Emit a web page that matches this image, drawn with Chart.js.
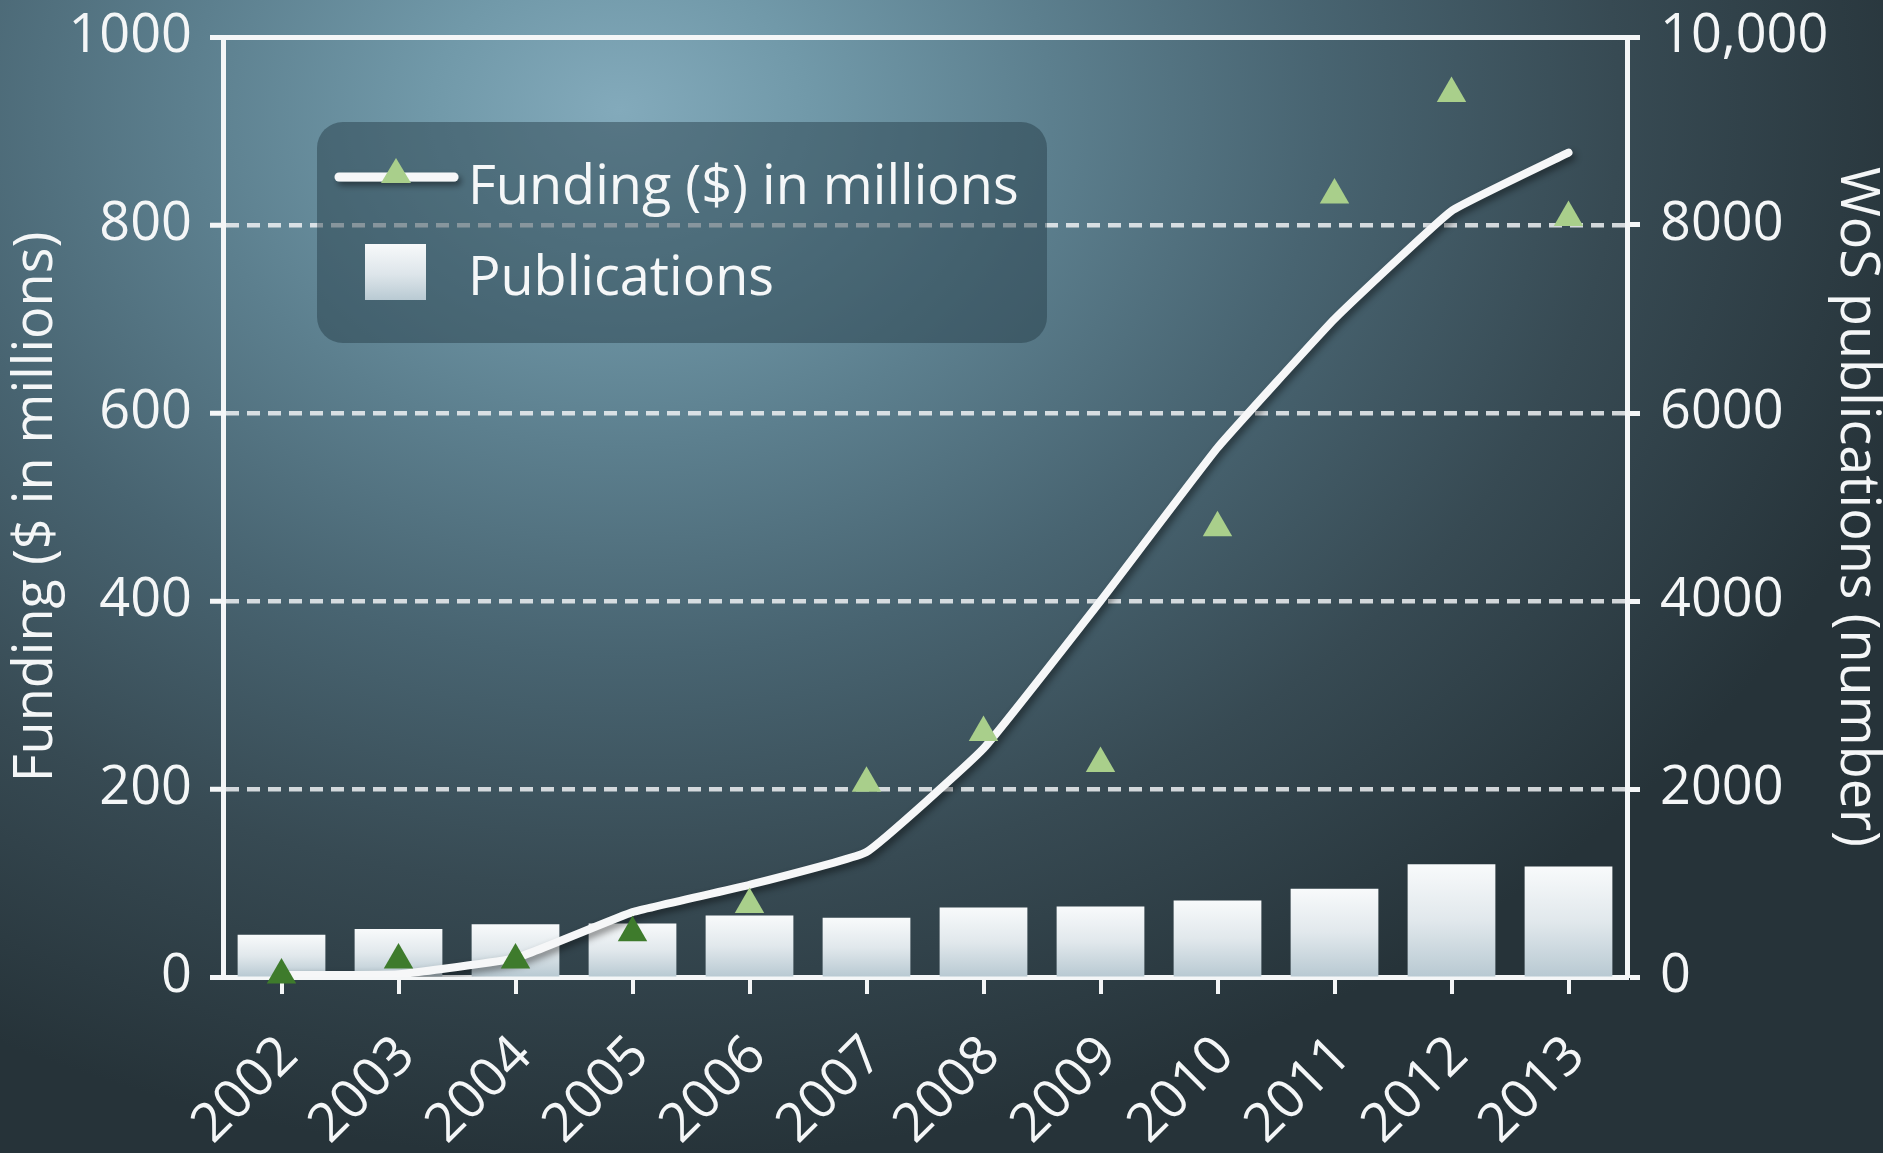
<!DOCTYPE html>
<html>
<head>
<meta charset="utf-8">
<script src="https://cdn.jsdelivr.net/npm/chart.js@4"></script>
<style>
  html, body { margin: 0; padding: 0; overflow: hidden; }
  #wrap {
    position: relative; width: 1883px; height: 1153px;
    background: radial-gradient(ellipse 1350px 1050px at 620px 110px,
      #83aabb 0%, #7199a9 14%, #5c7f8e 32%, #486471 52%, #374a53 74%, #263339 100%);
    font-family: 'Open Sans', sans-serif; color: #f5f7f8;
  }
  #chart { position: absolute; left: 0; top: 0; }
  #legend {
    position: absolute; left: 317px; top: 122px; width: 730px; height: 221px;
    border-radius: 26px; background: rgba(34, 56, 66, 0.45);
  }
  .lg-text { position: absolute; left: 151px; font-size: 54px; line-height: 60px; white-space: nowrap; }
  #swatch {
    position: absolute; left: 48px; top: 122px; width: 61px; height: 56px;
    background: linear-gradient(#f7f9fa, #dde5ea 55%, #b9cad3);
  }
  #lineKey { position: absolute; left: 14px; top: 30px; }
</style>
</head>
<body>
<div id="wrap">
  <canvas id="chart" width="1883" height="1153"></canvas>
  <div id="legend">
    <svg id="lineKey" width="140" height="50">
      <defs>
        <filter id="sh" filterUnits="userSpaceOnUse" x="0" y="0" width="140" height="50">
          <feDropShadow dx="3" dy="4" stdDeviation="3" flood-color="#000" flood-opacity="0.45"/>
        </filter>
      </defs>
      <line x1="8" y1="25" x2="123" y2="25" stroke="#f6f7f8" stroke-width="9" stroke-linecap="round" filter="url(#sh)"/>
      <polygon points="65,6 80,31 50,31" fill="#a9cf8b"/>
    </svg>
    <div class="lg-text" style="top:31px">Funding ($) in millions</div>
    <div id="swatch"></div>
    <div class="lg-text" style="top:122px">Publications</div>
  </div>
</div>
<script>
// years on the x axis
const years = ['2002', '2003', '2004', '2005', '2006', '2007', '2008', '2009', '2010', '2011', '2012', '2013'];
// funding trend line, $ millions
const fundingLine = [2, 3, 20, 69, 98, 133, 243, 400, 563, 700, 815, 877];
// yearly funding markers, $ millions
const fundingPoints = [2, 18, 18, 47, 77, 206, 260, 227, 478, 832, 940, 808];
// WoS publications per year
const publications = [450, 510, 560, 570, 655, 630, 740, 750, 815, 940, 1200, 1175];
// axis tick labels
const fundingTicks = ['0', '200', '400', '600', '800', '1000'];
const pubTicks = ['0', '2000', '4000', '6000', '8000', '10,000'];

const WHITE = '#f4f6f7';
const FONT = { family: "'Open Sans', sans-serif", size: 54 };
const isEdge = c => c.tick && (c.tick.value === 0 || c.tick.value === 1000);

// keep the plot box fixed: no extra room for overhanging labels
const noOverhang = s => { s.paddingTop = 0; s.paddingBottom = 0; s.paddingLeft = 0; s.paddingRight = 0; };

// soft drop shadow under the funding line
const lineShadow = {
  id: 'lineShadow',
  beforeDatasetDraw(chart, args) {
    if (args.index !== 1) return;
    const ctx = chart.ctx;
    ctx.save();
    ctx.shadowColor = 'rgba(0,0,0,0.45)';
    ctx.shadowBlur = 7;
    ctx.shadowOffsetX = 3;
    ctx.shadowOffsetY = 4;
  },
  afterDatasetDraw(chart, args) {
    if (args.index === 1) chart.ctx.restore();
  }
};

new Chart(document.getElementById('chart'), {
  type: 'bar',
  data: {
    labels: years,
    datasets: [
      {
        type: 'line',
        label: 'Funding points',
        data: fundingPoints,
        yAxisID: 'y',
        showLine: false,
        pointStyle: 'triangle',
        pointRadius: 17,
        pointBorderWidth: 0,
        clip: false,
        pointBackgroundColor: c => {
          const ch = c.chart;
          if (!ch.scales.y) return '#a9cf8b';
          const inBar = ch.scales.y.getPixelForValue(c.raw) > ch.scales.y1.getPixelForValue(publications[c.dataIndex]);
          return inBar ? '#3e7b2c' : '#a9cf8b';
        },
        order: 0
      },
      {
        type: 'line',
        label: 'Funding ($) in millions',
        data: fundingLine,
        yAxisID: 'y',
        borderColor: '#f6f7f8',
        borderWidth: 8,
        borderCapStyle: 'round',
        borderJoinStyle: 'round',
        pointRadius: 0,
        tension: 0.1,
        order: 1
      },
      {
        label: 'Publications',
        data: publications,
        yAxisID: 'y1',
        categoryPercentage: 1,
        barPercentage: 0.75,
        backgroundColor: c => {
          const ch = c.chart;
          const area = ch.chartArea;
          if (!area || !ch.scales.y1) return '#e6ecef';
          const top = ch.scales.y1.getPixelForValue(c.raw);
          const g = ch.ctx.createLinearGradient(0, top, 0, area.bottom);
          g.addColorStop(0, '#f8fafb');
          g.addColorStop(0.5, '#e1e8ec');
          g.addColorStop(1, '#b8c9d2');
          return g;
        },
        order: 2
      }
    ]
  },
  options: {
    responsive: false,
    animation: false,
    layout: { padding: { top: 37, left: 0, right: 0, bottom: 0 } },
    plugins: { legend: { display: false }, tooltip: { enabled: false } },
    scales: {
      x: {
        offset: true,
        grid: { offset: false, drawOnChartArea: false, color: WHITE, lineWidth: 4, tickLength: 17 },
        border: { display: true, color: WHITE, width: 5 },
        ticks: { color: WHITE, font: FONT, minRotation: 45, maxRotation: 45, autoSkip: false, padding: 30, labelOffset: 8 },
        afterFit: s => { s.height = 176; noOverhang(s); }
      },
      y: {
        position: 'left',
        min: 0, max: 1000,
        ticks: { stepSize: 200, color: WHITE, font: FONT, padding: 18, callback: (v, i) => fundingTicks[i] },
        grid: {
          color: c => isEdge(c) ? WHITE : 'rgba(238,241,243,0.85)',
          lineWidth: c => isEdge(c) ? 5 : 4.5,
          tickColor: WHITE, tickWidth: 5, tickLength: 13
        },
        border: { display: true, color: WHITE, width: 5, dash: c => isEdge(c) || !c.tick ? [] : [13, 8] },
        title: { display: true, text: 'Funding ($ in millions)', color: WHITE, font: FONT, padding: { top: 4, bottom: 0 } },
        afterFit: s => { s.width = 223; noOverhang(s); }
      },
      y1: {
        position: 'right',
        min: 0, max: 10000,
        ticks: { stepSize: 2000, color: WHITE, font: FONT, padding: 20, callback: (v, i) => pubTicks[i] },
        grid: { drawOnChartArea: false, tickColor: WHITE, tickWidth: 5, tickLength: 13 },
        border: { display: true, color: WHITE, width: 5 },
        title: { display: true, text: 'WoS publications (number)', color: WHITE,
                 font: { family: FONT.family, size: 54, lineHeight: 1 }, padding: { top: 0, bottom: 0 } },
        afterFit: s => { s.width = 256; noOverhang(s); }
      }
    }
  },
  plugins: [lineShadow]
});
</script>
</body>
</html>
